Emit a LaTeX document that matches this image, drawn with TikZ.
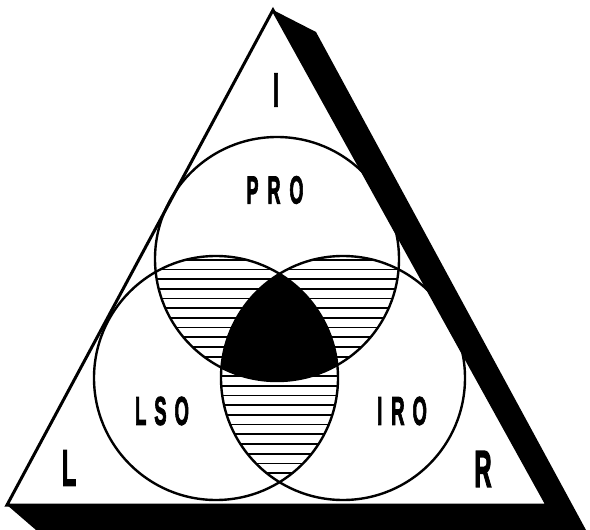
\documentclass[tikz,border=0pt]{standalone}
\usepackage{fontspec}
\setmainfont{Liberation Sans}
\newfontfamily\lblfont[FakeBold=3]{Liberation Sans Bold}
\newcommand\cw[1]{\scalebox{0.46}[1]{\lblfont #1}}
\tikzset{
  lbl/.style={inner sep=0pt, anchor=center},
  ring/.style={line width=2.4pt, draw=black},
  hatch/.style={line width=1.7pt, black}
}
\begin{document}
\begin{tikzpicture}[x=1pt,y=-1pt]
\useasboundingbox (0,0) rectangle (590,530);
% triangle corners
\coordinate (A) at (273,10);
\coordinate (BL) at (7,505);
\coordinate (BR) at (547,505);
% shadow
\fill[black] (A) -- (316,32) -- (586,530) -- (36,530) -- (BL) -- (BR) -- cycle;
\draw[line width=3pt, line join=miter] (BL) -- (A) -- (BR) -- cycle;
% circle centres
\coordinate (ct) at (277,259);
\coordinate (cl) at (216,378);
\coordinate (cr) at (343,378);
\def\R{122pt}
% hatched pairwise intersections
\begin{scope}
  \clip (ct) circle[radius=\R];
  \clip (cl) circle[radius=\R];
  \foreach \y in {250,259.7,...,510} \draw[hatch] (60,\y) -- (500,\y);
\end{scope}
\begin{scope}
  \clip (ct) circle[radius=\R];
  \clip (cr) circle[radius=\R];
  \foreach \y in {250,259.7,...,510} \draw[hatch] (60,\y) -- (500,\y);
\end{scope}
\begin{scope}
  \clip (cl) circle[radius=\R];
  \clip (cr) circle[radius=\R];
  \foreach \y in {250,259.7,...,510} \draw[hatch] (60,\y) -- (500,\y);
\end{scope}
% black triple intersection
\begin{scope}
  \clip (ct) circle[radius=\R];
  \clip (cl) circle[radius=\R];
  \fill[black] (cr) circle[radius=\R];
\end{scope}
% circle outlines
\draw[ring] (ct) circle[radius=\R];
\draw[ring] (cl) circle[radius=\R];
\draw[ring] (cr) circle[radius=\R];
% labels
\node[lbl] (lblI) at (276,90) {\fontsize{48}{48}\selectfont\cw{I}};
\node[lbl] (lblPRO) at (275,190) {\fontsize{39}{39}\selectfont\cw{P}\hspace{9pt}\cw{R}\hspace{9pt}\cw{O}};
\node[lbl] (lblLSO) at (162,411) {\fontsize{40}{40}\selectfont\cw{L}\hspace{8pt}\cw{S}\hspace{8pt}\cw{O}};
\node[lbl] (lblIRO) at (402,411) {\fontsize{40}{40}\selectfont\cw{I}\hspace{9pt}\cw{R}\hspace{8pt}\cw{O}};
\node[lbl] (lblL) at (69,468) {\fontsize{51}{51}\selectfont\cw{L}};
\node[lbl] (lblR) at (483,469) {\fontsize{52}{52}\selectfont\cw{R}};
\end{tikzpicture}
\end{document}
